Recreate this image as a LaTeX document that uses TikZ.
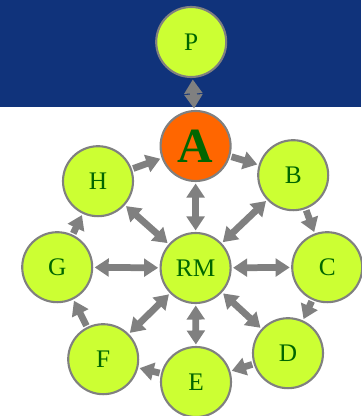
\documentclass[tikz,border=0pt]{standalone}
\usepackage{fontspec}
\setmainfont{Liberation Serif}
\usepackage{tikz}
\usetikzlibrary{arrows.meta}
\definecolor{band}{HTML}{10337B}
\definecolor{leaf}{HTML}{CCFF33}
\definecolor{hub}{HTML}{FF6600}
\definecolor{ink}{HTML}{006600}

\begin{document}
\begin{tikzpicture}[
  site/.style={circle, draw=gray, line width=1.5pt, fill=leaf, text=ink,
    minimum size=1.75cm, inner sep=0pt, font=\fontsize{18}{18}\selectfont},
  link/.style={draw=gray, line width=4.8pt, shorten <=1pt, shorten >=1pt,
    -{Triangle[width=12.5pt,length=10pt]}},
  both/.style={link, {Triangle[width=12.5pt,length=10pt]}-{Triangle[width=12.5pt,length=10pt]}}]
\useasboundingbox (0,0) rectangle (9.025,-10.4);
\fill[band] (0,0) rectangle (9.025,-2.67);
\node[site] (P) at (4.78,-1.05){P};
\node[site, fill=hub, font=\bfseries\fontsize{35}{35}\selectfont] (A) at (4.89,-3.65){A};
\node[site] (B) at (7.33,-4.38){B};
\node[site] (C) at (8.18,-6.68){C};
\node[site] (D) at (7.2,-8.83){D};
\node[site] (E) at (4.9,-9.55){E};
\node[site] (F) at (2.58,-8.98){F};
\node[site] (G) at (1.43,-6.68){G};
\node[site] (H) at (2.45,-4.53){H};
\node[site] (RM) at (4.89,-6.7){RM};
\draw[both] (P) -- (A);
\foreach \from/\to in 
{A/B,B/C,C/D,D/E,E/F,F/G,G/H,H/A}
\draw[link] (\from) -- (\to);
\foreach \to in 
{A,B,C,D,E,F,G,H}
\draw[both] (RM) -- (\to);
\end{tikzpicture}
\end{document}
